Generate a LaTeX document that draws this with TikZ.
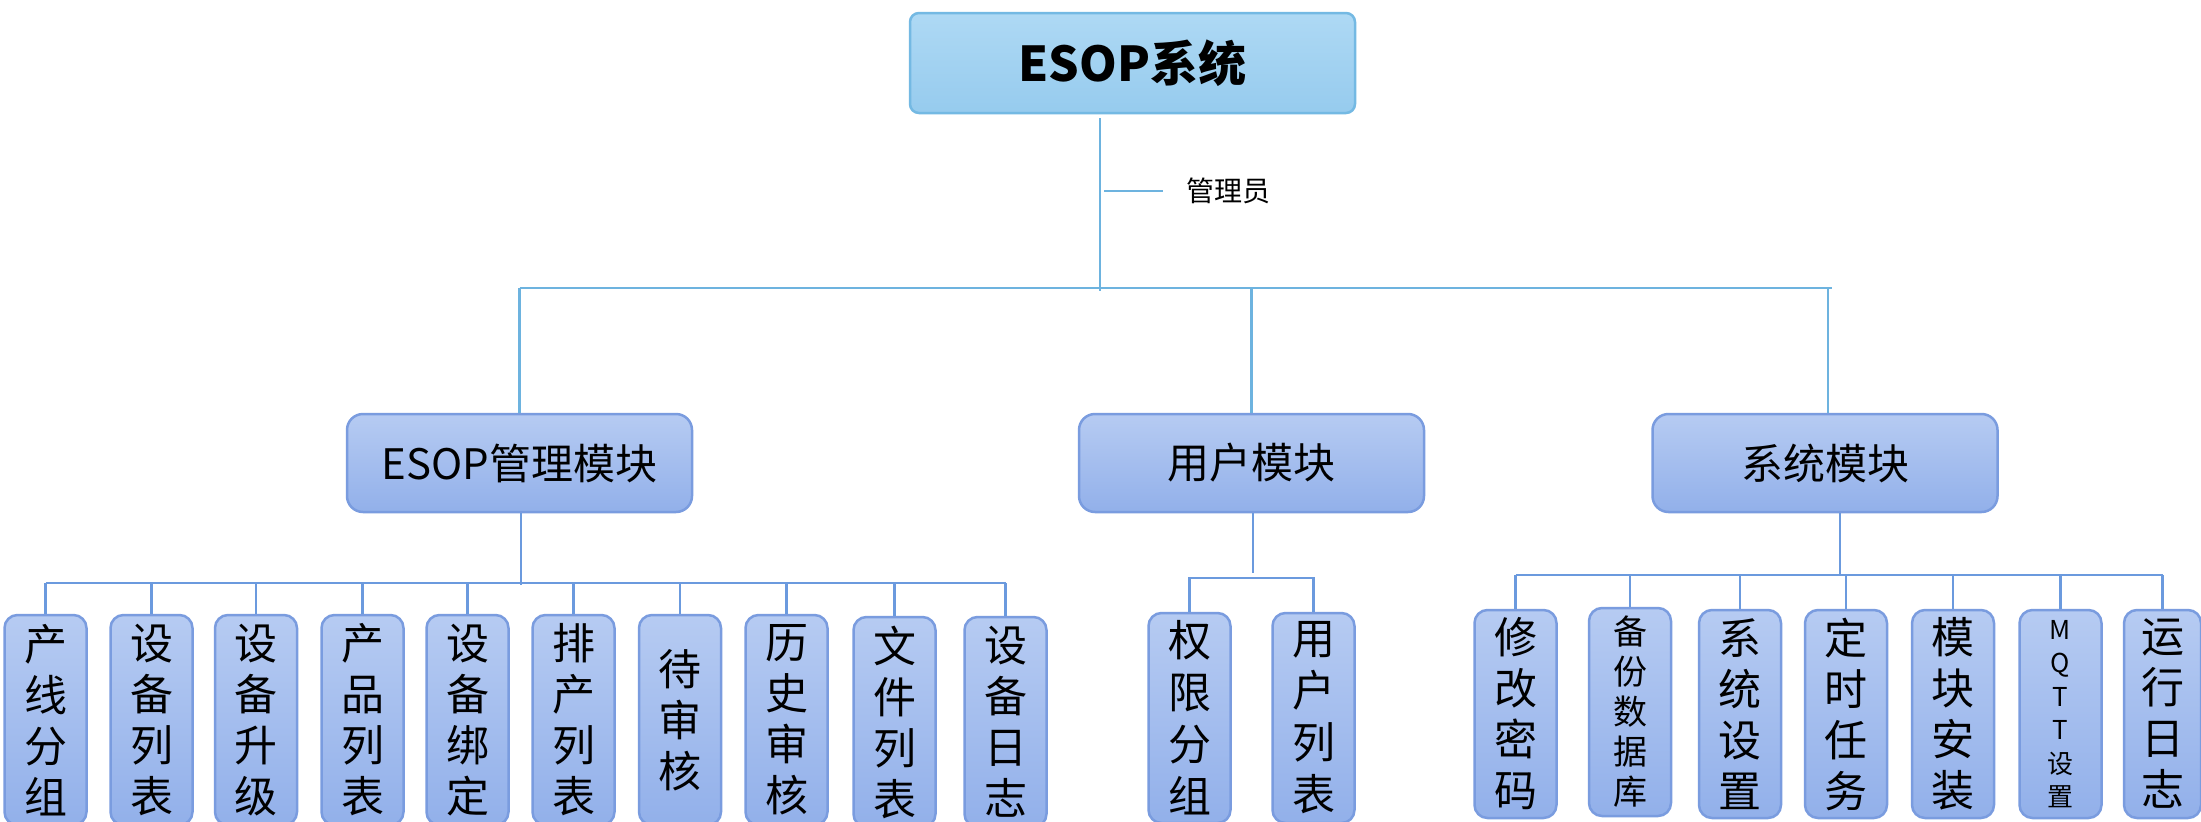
\documentclass[tikz,border=0pt]{standalone}
\usepackage{fontspec}
\setmainfont{Noto Sans CJK SC}
\usetikzlibrary{calc}
\definecolor{rootA}{HTML}{AED9F4}
\definecolor{rootB}{HTML}{96CBEE}
\definecolor{rootD}{HTML}{74B9E3}
\definecolor{modA}{HTML}{B6CBF2}
\definecolor{modB}{HTML}{92B0EA}
\definecolor{modD}{HTML}{7A9CDF}
\definecolor{lineTop}{HTML}{6DB3DF}
\definecolor{lineLow}{HTML}{6B9ADE}
\tikzset{
  rootbox/.style={draw=rootD, line width=2.5pt, rounded corners=9pt,
    top color=rootA, bottom color=rootB, minimum width=445pt, minimum height=100pt,
    font=\fontsize{48pt}{56pt}\selectfont\bfseries, text=black},
  modbox/.style={draw=modD, line width=2.5pt, rounded corners=16pt,
    top color=modA, bottom color=modB, minimum width=345pt, minimum height=98pt,
    font=\fontsize{42pt}{50pt}\selectfont, text=black},
  leafbox/.style={draw=modD, line width=2.5pt, rounded corners=13pt,
    top color=modA, bottom color=modB, minimum width=82pt, inner sep=0pt,
    align=center, font=\fontsize{43pt}{51pt}\selectfont, text=black},
  tall/.style={minimum height=210pt},
  sysh/.style={minimum height=208pt},
  toplink/.style={draw=lineTop, line width=2.5pt},
  lowlink/.style={draw=lineLow, line width=2.5pt},
}
\begin{document}
\begin{tikzpicture}[x=1pt,y=-1pt]
\useasboundingbox (0,0) rectangle (2201,822);
\clip (0,0) rectangle (2201,822);
\fill[white] (0,0) rectangle (2201,822);

% root
\node[rootbox] (root) at (1132.5,63) {ESOP系统};
\coordinate (rootbot) at (1100,118);
\coordinate (busTop) at (0,288);
\coordinate (tickA) at (1104,191);
\coordinate (tickB) at (1163,191);
\node[anchor=west, inner sep=0pt, font=\fontsize{28pt}{32pt}\selectfont] (admin) at (1186,191) {管理员};

% modules
\node[modbox] (m1) at (519.5,463) {ESOP管理模块};
\node[modbox] (m2) at (1251.5,463) {用户模块};
\node[modbox] (m3) at (1825,463) {系统模块};

% ESOP leaves
\node[leafbox,tall] (e1) at (45.5,720) {产\\线\\分\\组};
\node[leafbox,tall] (e2) at (151.5,720) {设\\备\\列\\表};
\node[leafbox,tall] (e3) at (256,720) {设\\备\\升\\级};
\node[leafbox,tall] (e4) at (362.5,720) {产\\品\\列\\表};
\node[leafbox,tall] (e5) at (467.5,720) {设\\备\\绑\\定};
\node[leafbox,tall] (e6) at (573.5,720) {排\\产\\列\\表};
\node[leafbox,tall] (e7) at (680,720) {待\\审\\核};
\node[leafbox,tall] (e8) at (786.5,720) {历\\史\\审\\核};
\node[leafbox,tall] (e9) at (894.5,722) {文\\件\\列\\表};
\node[leafbox,tall] (e10) at (1005.5,722) {设\\备\\日\\志};

% user leaves
\node[leafbox,tall,font=\fontsize{43pt}{52pt}\selectfont] (u1) at (1189.5,718) {权\\限\\分\\组};
\node[leafbox,tall,font=\fontsize{43pt}{52pt}\selectfont] (u2) at (1313.5,718) {用\\户\\列\\表};

% system leaves
\node[leafbox,sysh] (s1) at (1515.5,714) {修\\改\\密\\码};
\node[leafbox,sysh,font=\fontsize{34pt}{40pt}\selectfont] (s2) at (1630,712) {备\\份\\数\\据\\库};
\node[leafbox,sysh] (s3) at (1740,714) {系\\统\\设\\置};
\node[leafbox,sysh] (s4) at (1846,714) {定\\时\\任\\务};
\node[leafbox,sysh] (s5) at (1953,714) {模\\块\\安\\装};
\node[leafbox,sysh,font=\fontsize{26pt}{33.5pt}\selectfont] (s6) at (2060.5,714) {M\\Q\\T\\T\\设\\置};
\node[leafbox,sysh,minimum width=77pt] (s7) at (2162.5,714) {运\\行\\日\\志};

% upper connectors
\draw[toplink] (rootbot) -- (rootbot |- 0,291);
\draw[toplink] (tickA) -- (tickB);
\draw[toplink] (m1.north |- busTop) -- (1832,288);
\draw[toplink] (m1.north |- busTop) -- (m1.north);
\draw[toplink] (m2.north |- busTop) -- (m2.north);
\draw[toplink] (1828,288) -- (m3.north -| 1828,0);

% ESOP group connectors
\coordinate (busE) at (0,583);
\draw[lowlink] (m1.south -| 521,0) -- (521,585);
\draw[lowlink] (e1.north |- busE) -- (e10.north |- busE);
\foreach \n in {e1,e2,e3,e4,e5,e6,e7,e8,e9,e10}
  \draw[lowlink] (\n.north |- busE) -- (\n.north);

% user group connectors
\coordinate (busU) at (0,578);
\draw[lowlink] (m2.south -| 1253,0) -- (1253,573);
\draw[lowlink] (u1.north) |- (u2.north |- busU) -- (u2.north);

% system group connectors
\coordinate (busS) at (0,575);
\draw[lowlink] (m3.south -| 1840,0) -- (1840,575);
\draw[lowlink] (s1.north |- busS) -- (s7.north |- busS);
\foreach \n in {s1,s2,s3,s4,s5,s6,s7}
  \draw[lowlink] (\n.north |- busS) -- (\n.north);
\end{tikzpicture}
\end{document}
